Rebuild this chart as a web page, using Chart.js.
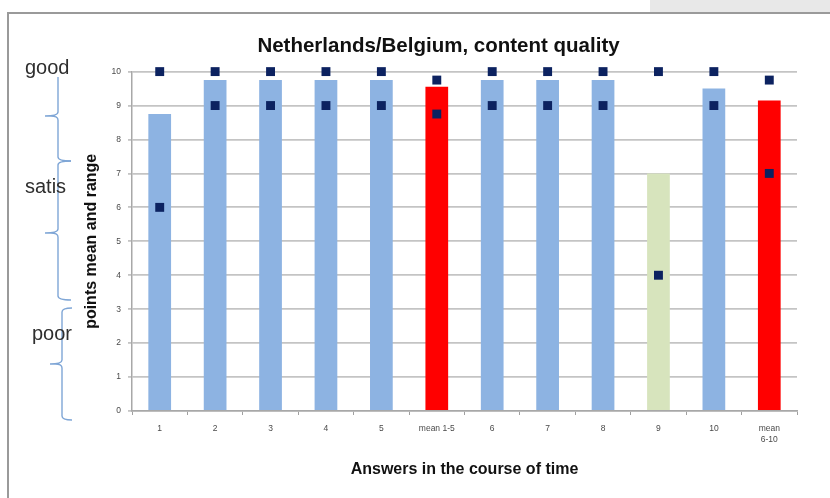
<!DOCTYPE html>
<html>
<head>
<meta charset="utf-8">
<script src="https://cdn.jsdelivr.net/npm/chart.js@4/dist/chart.umd.min.js"></script>
<style>
  html, body { margin: 0; padding: 0; background: #fff; }
  #wrap { width: 830px; height: 498px; position: relative; }
</style>
</head>
<body>
<div id="wrap"><canvas id="c" width="830" height="498"></canvas></div>
<script>
// Answer rounds and the two summary columns
const categories = ['1', '2', '3', '4', '5', 'mean 1-5', '6', '7', '8', '9', '10', ['mean', '6-10']];
// Mean points per answer (bars)
const meanPoints = [8.75, 9.75, 9.75, 9.75, 9.75, 9.55, 9.75, 9.75, 9.75, 7.0, 9.5, 9.15];
// Range of points per answer (markers)
const maxPoints = [10, 10, 10, 10, 10, 9.75, 10, 10, 10, 10, 10, 9.75];
const minPoints = [6, 9, 9, 9, 9, 8.75, 9, 9, 9, 4, 9, 7];
// Value axis ticks
const yTicks = [0, 1, 2, 3, 4, 5, 6, 7, 8, 9, 10];
// Verbal rating bands shown beside the value axis
const ratingBands = ['good', 'satis', 'poor'];

const BLUE = '#8db3e2', RED = '#ff0000', GREEN = '#d7e4bd', NAVY = '#0c2260';
const barColors = categories.map((c) => {
  const name = Array.isArray(c) ? c.join(' ') : c;
  if (name.startsWith('mean')) return RED;
  if (name === '9') return GREEN;
  return BLUE;
});

const FONT = '"Liberation Sans", Arial, sans-serif';

// Frame, corner block and rating braces on the left
const decorations = {
  id: 'decorations',
  beforeDraw(chart) {
    const ctx = chart.ctx;
    ctx.save();
    ctx.fillStyle = '#fff';
    ctx.fillRect(0, 0, chart.width, chart.height);
    ctx.fillStyle = '#e8e8e8';
    ctx.fillRect(650, 0, 180, 12);
    ctx.strokeStyle = '#9a9a9a';
    ctx.lineWidth = 2;
    ctx.beginPath();
    ctx.moveTo(8, 500);
    ctx.lineTo(8, 13);
    ctx.lineTo(832, 13);
    ctx.stroke();
    ctx.restore();
  },
  afterDraw(chart) {
    const ctx = chart.ctx;
    ctx.save();
    ctx.strokeStyle = '#7fa6d6';
    ctx.lineWidth = 1.4;
    const r = 4;
    // a "{" brace: x, top, middle, bottom, left tip, right tip, draw top hook
    function brace(x, top, mid, bot, tipL, tipR, topHook) {
      ctx.beginPath();
      if (topHook) {
        ctx.moveTo(tipR, top);
        ctx.quadraticCurveTo(x, top, x, top + r);
      } else {
        ctx.moveTo(x, top);
      }
      ctx.lineTo(x, mid - r);
      ctx.quadraticCurveTo(x, mid, tipL, mid);
      ctx.moveTo(x - (x - tipL) * 0.55, mid);
      ctx.quadraticCurveTo(x, mid, x, mid + r);
      ctx.lineTo(x, bot - r);
      ctx.quadraticCurveTo(x, bot, tipR, bot);
      ctx.stroke();
    }
    brace(58, 77, 116, 161, 45, 71, false);
    brace(58, 161, 233, 300, 45, 71, true);
    brace(62, 308, 364, 420, 50, 72, true);

    ctx.fillStyle = '#2e2e2e';
    ctx.font = '20px ' + FONT;
    ctx.textBaseline = 'middle';
    ctx.textAlign = 'left';
    ctx.fillText(ratingBands[0], 25, 68);
    ctx.fillText(ratingBands[1], 25, 187);
    ctx.fillText(ratingBands[2], 32, 334);
    ctx.restore();
  }
};

const markerStyle = {
  type: 'line',
  showLine: false,
  clip: false,
  pointStyle: 'rect',
  pointRadius: 6.3,
  pointBackgroundColor: NAVY,
  pointBorderColor: NAVY,
  pointBorderWidth: 0,
  order: 0
};

new Chart(document.getElementById('c'), {
  data: {
    labels: categories,
    datasets: [
      Object.assign({ label: 'max', data: maxPoints }, markerStyle),
      Object.assign({ label: 'min', data: minPoints }, markerStyle),
      {
        type: 'bar',
        label: 'mean',
        data: meanPoints,
        backgroundColor: barColors,
        borderWidth: 0,
        categoryPercentage: 1,
        barPercentage: 0.41,
        order: 1
      }
    ]
  },
  options: {
    responsive: false,
    animation: false,
    events: [],
    layout: { padding: { left: 80, right: 33, top: 0, bottom: 0 } },
    plugins: {
      legend: { display: false },
      tooltip: { enabled: false },
      title: {
        display: true,
        text: 'Netherlands/Belgium, content quality',
        color: '#111',
        font: { family: FONT, size: 20.5, weight: 'bold' },
        padding: { top: 34, bottom: 13 }
      }
    },
    scales: {
      x: {
        grid: {
          display: true,
          drawOnChartArea: false,
          offset: true,
          color: '#a0a0a0',
          tickLength: 4,
          tickWidth: 1
        },
        border: { display: true, color: '#a8a8a8', width: 1.5 },
        ticks: {
          color: '#4a4a4a',
          font: { family: FONT, size: 8.5 },
          padding: 9,
          maxRotation: 0,
          autoSkip: false
        },
        title: {
          display: true,
          text: 'Answers in the course of time',
          color: '#111',
          font: { family: FONT, size: 16, weight: 'bold' },
          padding: { top: 0, bottom: 19 }
        },
        afterFit(scale) { scale.height = 87; }
      },
      y: {
        min: 0,
        max: 10,
        afterBuildTicks(scale) { scale.ticks = yTicks.map(v => ({ value: v })); },
        grid: {
          color: '#c4c4c4',
          lineWidth: 1.8,
          tickLength: 4,
          drawTicks: true
        },
        border: { display: true, color: '#a8a8a8', width: 1.5 },
        ticks: {
          color: '#4a4a4a',
          font: { family: FONT, size: 8.5 },
          padding: 7
        },
        title: {
          display: true,
          text: 'points mean and range',
          color: '#111',
          font: { family: FONT, size: 16, weight: 'bold' },
          padding: { top: 2, bottom: 0 }
        },
        afterFit(scale) { scale.width = 52; }
      }
    }
  },
  plugins: [decorations]
});
</script>
</body>
</html>
